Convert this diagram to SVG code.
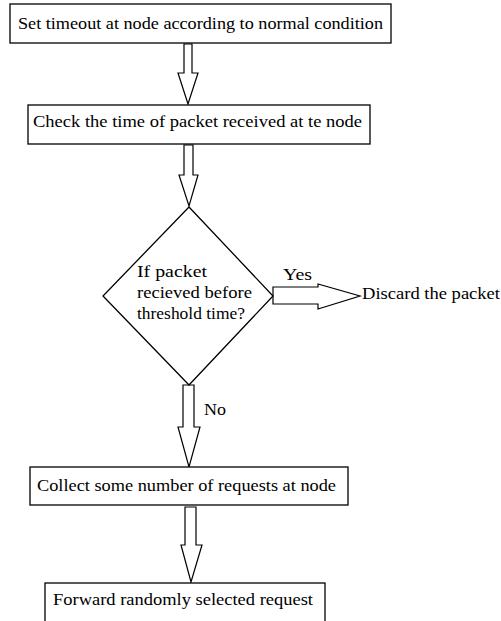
<svg xmlns="http://www.w3.org/2000/svg" width="501" height="621" viewBox="0 0 501 621">
<style>
.box{fill:#fff;stroke:#000;stroke-width:1.3}
.arr{fill:#fff;stroke:#000;stroke-width:1.2;stroke-linejoin:miter}
.t{font-family:'Liberation Serif','DejaVu Serif','Times New Roman',serif;font-size:17px;fill:#000}
</style>
<rect width="501" height="621" fill="#fff"/>
<g id="connectors">
<polygon class="arr" points="184,44 192,44 192,73 198,73 188,104 178,73 184,73"/>
<polygon class="arr" points="184,145 193,145 193,175 198,175 189,206 179,175 184,175"/>
<polygon class="arr" points="273,287 318,287 318,284 360,296 318,309 318,304 273,304"/>
<polygon class="arr" points="183,385 194,385 194,427 200,427 189,467 178,427 183,427"/>
<polygon class="arr" points="185,507 196,507 196,545 202,545 191,582 181,545 185,545"/>
<text class="t" font-family="Liberation Serif, serif" x="283" y="280" textLength="29" lengthAdjust="spacingAndGlyphs">Yes</text>
<text class="t" font-family="Liberation Serif, serif" x="204" y="415" textLength="22" lengthAdjust="spacingAndGlyphs">No</text>
</g>
<g id="n1">
<rect class="box" x="10" y="4" width="381" height="39"/>
<text class="t" font-family="Liberation Serif, serif" x="18" y="29" textLength="365" lengthAdjust="spacingAndGlyphs">Set timeout at node according to normal condition</text>
</g>
<g id="n2">
<rect class="box" x="28" y="105" width="342" height="39"/>
<text class="t" font-family="Liberation Serif, serif" x="33" y="127" textLength="329" lengthAdjust="spacingAndGlyphs">Check the time of packet received at te node</text>
</g>
<g id="n3">
<polygon class="box" points="189,207 273,296 189,385 103,296"/>
<text class="t" font-family="Liberation Serif, serif" x="137" y="277" textLength="70" lengthAdjust="spacingAndGlyphs">If packet</text>
<text class="t" font-family="Liberation Serif, serif" x="137" y="298" textLength="115" lengthAdjust="spacingAndGlyphs">recieved before</text>
<text class="t" font-family="Liberation Serif, serif" x="137" y="319" textLength="108" lengthAdjust="spacingAndGlyphs">threshold time?</text>
</g>
<g id="n4">
<text class="t" font-family="Liberation Serif, serif" x="362" y="299" textLength="138" lengthAdjust="spacingAndGlyphs">Discard the packet</text>
</g>
<g id="n5">
<rect class="box" x="30" y="467" width="318" height="38"/>
<text class="t" font-family="Liberation Serif, serif" x="37" y="491" textLength="299" lengthAdjust="spacingAndGlyphs">Collect some number of requests at node</text>
</g>
<g id="n6">
<rect class="box" x="45" y="583" width="280" height="50"/>
<text class="t" font-family="Liberation Serif, serif" x="53" y="605" textLength="260" lengthAdjust="spacingAndGlyphs">Forward randomly selected request</text>
</g>
</svg>
